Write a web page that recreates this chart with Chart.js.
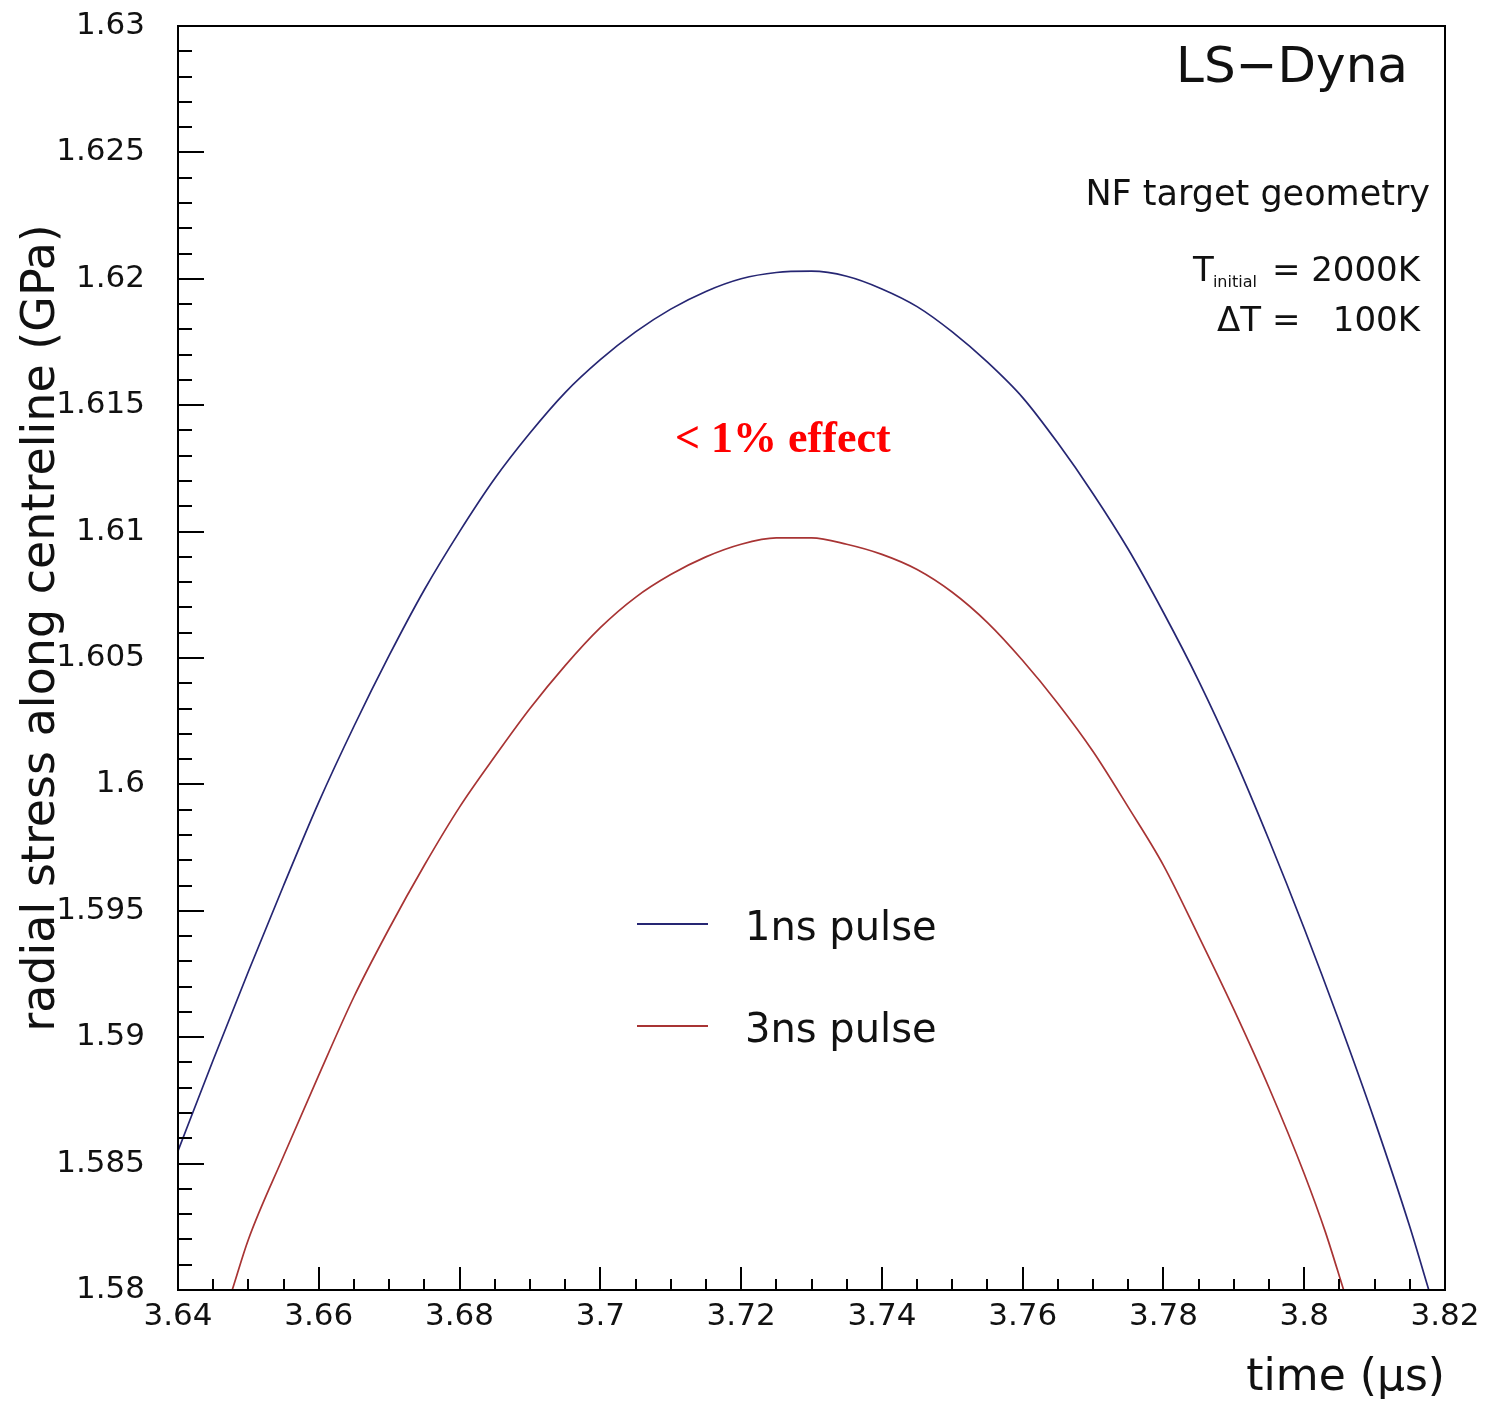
<!DOCTYPE html>
<html><head><meta charset="utf-8">
<script src="https://cdn.jsdelivr.net/npm/chart.js@4.4.0/dist/chart.umd.min.js"></script>
<style>html,body{margin:0;padding:0;background:#fff}#wrap{width:1488px;height:1405px;position:relative}</style>
</head><body><div id="wrap"><canvas id="c"></canvas></div>
<script>
// ---- data ----
const time1ns = [3.640,3.645,3.650,3.655,3.660,3.665,3.670,3.675,3.680,3.685,3.690,3.695,3.700,3.705,3.710,3.715,3.720,3.725,3.730,3.735,3.740,3.745,3.750,3.755,3.760,3.765,3.770,3.775,3.780,3.785,3.790,3.795,3.800,3.805,3.810,3.815,3.8177];
const stress1ns = [1.5855,1.5891,1.5926,1.5960,1.5993,1.6023,1.6051,1.6077,1.6100,1.6121,1.6139,1.6155,1.6168,1.6179,1.6188,1.6195,1.6200,1.62025,1.6203,1.6201,1.6196,1.6189,1.6179,1.6167,1.6153,1.6135,1.6115,1.6093,1.6068,1.6041,1.6011,1.5978,1.5943,1.5906,1.5867,1.5825,1.5800];
const time3ns = [3.6477,3.650,3.655,3.660,3.665,3.670,3.675,3.680,3.685,3.690,3.695,3.700,3.705,3.710,3.715,3.720,3.725,3.730,3.735,3.740,3.745,3.750,3.755,3.760,3.765,3.770,3.775,3.780,3.785,3.790,3.795,3.800,3.803,3.8056];
const stress3ns = [1.5800,1.5820,1.5853,1.5885,1.5916,1.5943,1.5968,1.5991,1.6011,1.6030,1.6047,1.6062,1.6074,1.6083,1.6090,1.6095,1.60975,1.60975,1.6095,1.6091,1.6085,1.6076,1.6064,1.6049,1.6032,1.6013,1.5991,1.5968,1.5940,1.5911,1.5880,1.5846,1.5823,1.5800];
const seriesLabels = ['1ns pulse','3ns pulse'];
const seriesColors = ['#262673','#a83434'];
const xTickValues = [3.64,3.66,3.68,3.70,3.72,3.74,3.76,3.78,3.80,3.82];
const xTickLabels = ['3.64','3.66','3.68','3.7','3.72','3.74','3.76','3.78','3.8','3.82'];
const yTickValues = [1.58,1.585,1.59,1.595,1.60,1.605,1.61,1.615,1.62,1.625,1.63];
const yTickLabels = ['1.58','1.585','1.59','1.595','1.6','1.605','1.61','1.615','1.62','1.625','1.63'];
const xTitle = 'time (\u03bcs)';
const yTitle = 'radial stress along centreline (GPa)';
const xMin = 3.64, xMax = 3.82, yMin = 1.58, yMax = 1.63;
const xMinorStep = 0.005, yMinorStep = 0.001;

const FONT = '"DejaVu Sans", "Liberation Sans", sans-serif';
const TXT = '#111';

const frameTicks = {
  id: 'frameTicks',
  afterDatasetsDraw(chart) {
    const {ctx, chartArea: ca, scales: {x, y}} = chart;
    ctx.save();
    ctx.strokeStyle = '#000';
    ctx.lineWidth = 2;
    ctx.strokeRect(ca.left, ca.top, ca.right - ca.left, ca.bottom - ca.top);
    ctx.beginPath();
    const nx = Math.round((xMax - xMin) / xMinorStep);
    for (let i = 0; i <= nx; i++) {
      const px = Math.round(x.getPixelForValue(xMin + i * xMinorStep));
      const len = (i % 4 === 0) ? 23 : 11;
      ctx.moveTo(px, ca.bottom); ctx.lineTo(px, ca.bottom - len);
    }
    const ny = Math.round((yMax - yMin) / yMinorStep);
    for (let i = 0; i <= ny; i++) {
      const py = Math.round(y.getPixelForValue(yMin + i * yMinorStep));
      const len = (i % 5 === 0) ? 26 : 14;
      ctx.moveTo(ca.left, py); ctx.lineTo(ca.left + len, py);
    }
    ctx.stroke();
    ctx.restore();
  },
  afterDraw(chart) {
    const {ctx, chartArea: ca} = chart;
    ctx.save();
    ctx.fillStyle = TXT;
    // y axis title
    ctx.save();
    ctx.translate(42, ca.top + 602);
    ctx.rotate(-Math.PI / 2);
    ctx.textAlign = 'center';
    ctx.textBaseline = 'middle';
    ctx.font = '46px ' + FONT;
    ctx.fillText(yTitle, 0, 0);
    ctx.restore();

    ctx.textBaseline = 'alphabetic';
    ctx.textAlign = 'right';
    ctx.font = '50px ' + FONT;
    ctx.fillText('LS\u2212Dyna', ca.right - 37, ca.top + 56);
    ctx.font = '35px ' + FONT;
    ctx.fillText('NF target geometry', ca.right - 15, ca.top + 179);
    const rx = ca.right - 25;
    ctx.font = '34px ' + FONT;
    ctx.fillText('= 2000K', rx, ca.top + 255);
    const w1 = ctx.measureText('= 2000K').width;
    ctx.font = '16px ' + FONT;
    const subR = rx - w1 - 15;
    ctx.fillText('initial', subR, ca.top + 261);
    const w2 = ctx.measureText('initial').width;
    ctx.font = '34px ' + FONT;
    ctx.fillText('T', subR - w2 + 1, ca.top + 255);
    ctx.fillText('\u0394T =   100K', rx, ca.top + 305);
    // red annotation
    ctx.textAlign = 'left';
    ctx.fillStyle = '#ff0000';
    ctx.font = 'bold 44px "Liberation Serif", "Times New Roman", serif';
    ctx.fillText('< 1% effect', 675, 452);
    // legend
    const ds = chart.data.datasets;
    const legY = [924, 1026];
    ctx.font = '40px ' + FONT;
    ctx.fillStyle = TXT;
    ds.forEach((d, i) => {
      ctx.strokeStyle = d.borderColor;
      ctx.lineWidth = 2;
      ctx.beginPath();
      ctx.moveTo(637, legY[i]); ctx.lineTo(708, legY[i]);
      ctx.stroke();
      ctx.fillText(d.label, 745, legY[i] + 16);
    });
    ctx.restore();
  }
};

new Chart(document.getElementById('c'), {
  type: 'line',
  data: {
    datasets: [
      {label: seriesLabels[0], data: time1ns.map((t, i) => ({x: t, y: stress1ns[i]})), borderColor: seriesColors[0], borderWidth: 1.7, pointRadius: 0, fill: false, cubicInterpolationMode: 'monotone'},
      {label: seriesLabels[1], data: time3ns.map((t, i) => ({x: t, y: stress3ns[i]})), borderColor: seriesColors[1], borderWidth: 1.7, pointRadius: 0, fill: false, cubicInterpolationMode: 'monotone'}
    ]
  },
  options: {
    responsive: true,
    maintainAspectRatio: false,
    animation: false,
    layout: {padding: {top: 26, right: 43, bottom: 0, left: 10}},
    plugins: {legend: {display: false}, tooltip: {enabled: false}},
    scales: {
      x: {
        type: 'linear', min: xMin, max: xMax,
        afterBuildTicks: s => { s.ticks = xTickValues.map(v => ({value: v})); },
        afterFit: s => { s.height = 115; s.paddingLeft = 0; s.paddingRight = 0; },
        ticks: {callback: (v, i) => xTickLabels[i], font: {size: 31, family: FONT}, color: TXT, padding: 8, maxRotation: 0, autoSkip: false},
        grid: {display: false, drawTicks: false},
        border: {display: false},
        title: {display: true, text: xTitle, align: 'end', font: {size: 44, family: FONT}, color: TXT, padding: 0}
      },
      y: {
        type: 'linear', min: yMin, max: yMax,
        afterBuildTicks: s => { s.ticks = yTickValues.map(v => ({value: v})); },
        afterFit: s => { s.width = 168; s.paddingTop = 0; s.paddingBottom = 0; },
        ticks: {callback: (v, i) => yTickLabels[i], font: {size: 31, family: FONT}, color: TXT, padding: 33, autoSkip: false},
        grid: {display: false, drawTicks: false},
        border: {display: false},
        title: {display: false, text: yTitle}
      }
    }
  },
  plugins: [frameTicks]
});
</script>
</body></html>
